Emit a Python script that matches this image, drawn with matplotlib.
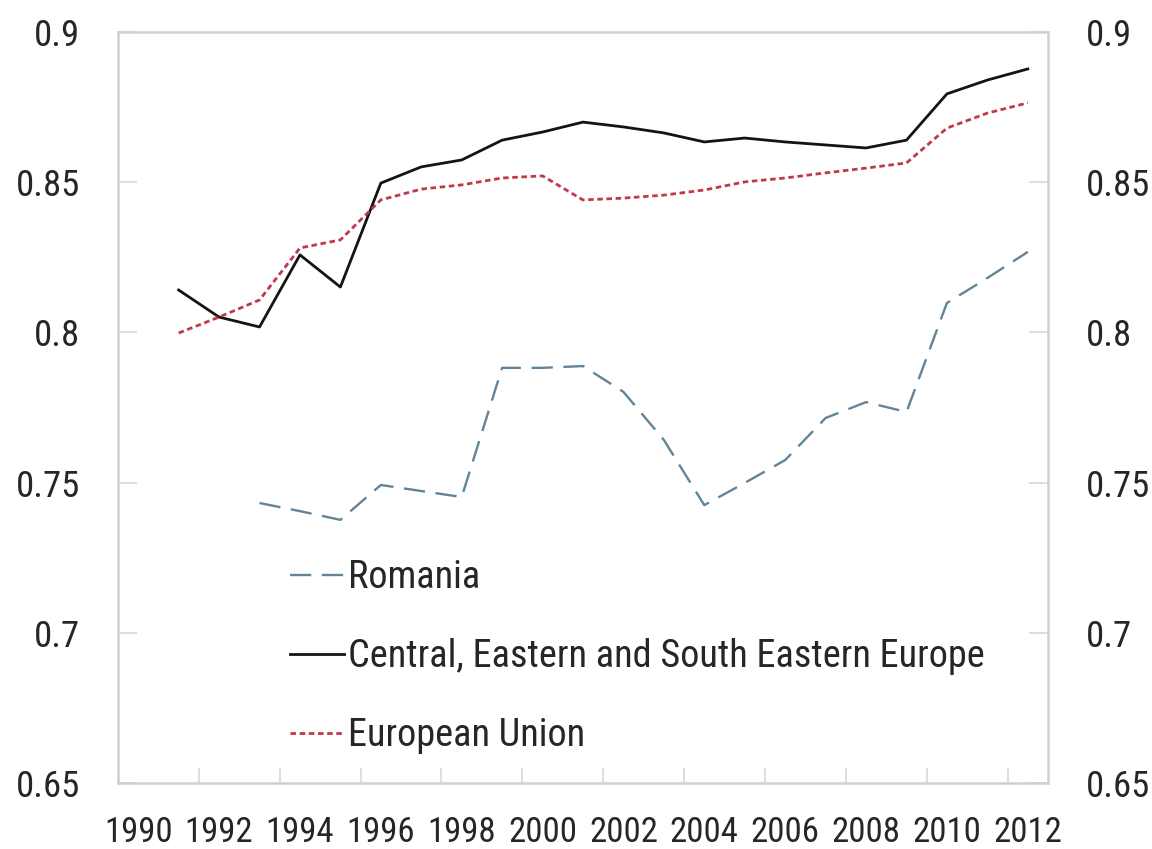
import matplotlib
matplotlib.use("Agg")
import matplotlib.pyplot as plt
from matplotlib import font_manager
from matplotlib.ticker import FixedLocator, FixedFormatter

years = list(range(1990, 2013))
tick_labels = [str(y) for y in range(1990, 2013, 2)]

romania_years = list(range(1993, 2013))
romania = [0.7432, 0.7405, 0.7376, 0.7492, 0.7472, 0.7452, 0.7882, 0.7882,
           0.7888, 0.7802, 0.7642, 0.7425, 0.7499, 0.7575, 0.7715, 0.7768,
           0.7735, 0.8098, 0.8181, 0.8268]

cesee_years = list(range(1991, 2013))
cesee = [0.8141, 0.8051, 0.8018, 0.8258, 0.8151, 0.8497, 0.8551, 0.8574,
         0.8640, 0.8667, 0.8700, 0.8684, 0.8664, 0.8634, 0.8647, 0.8634,
         0.8624, 0.8614, 0.8640, 0.8794, 0.8840, 0.8877]

eu_years = list(range(1991, 2013))
eu = [0.7998, 0.8051, 0.8108, 0.8281, 0.8308, 0.8441, 0.8477, 0.8491,
      0.8514, 0.8521, 0.8441, 0.8447, 0.8457, 0.8474, 0.8501, 0.8514,
      0.8531, 0.8547, 0.8564, 0.8680, 0.8730, 0.8764]

y_ticks = [0.65, 0.7, 0.75, 0.8, 0.85, 0.9]
y_tick_labels = ["0.65", "0.7", "0.75", "0.8", "0.85", "0.9"]

fonts = font_manager.fontManager.ttflist
names = {f.name for f in fonts}
font = None
for cand in ["Roboto Condensed", "Liberation Sans Narrow", "Open Sans Condensed",
             "DejaVu Sans Condensed", "Noto Sans Condensed"]:
    if cand in names:
        font = cand
        break
narrow = font is not None
if font is None:
    font = "Noto Sans CJK KR" if "Noto Sans CJK KR" in names else "DejaVu Sans"

plt.rcParams["font.family"] = [font, "DejaVu Sans"]

xtick_size = 25 if narrow else 20.5
ytick_size = 26.5 if narrow else 21
leg_size = 27.5 if narrow else 22

fig = plt.figure(figsize=(11.52, 8.49), dpi=100)
ax = fig.add_axes([118 / 1152, 1 - 783 / 849, 930 / 1152, 751 / 849])

def idx(ys):
    return [y - years[0] for y in ys]

ax.plot(idx(romania_years), romania, color="#62849a", lw=1.7, dashes=(9, 4.5),
        label="Romania")
ax.plot(idx(cesee_years), cesee, color="#141414", lw=2.0,
        label="Central, Eastern and South Eastern Europe")
ax.plot(idx(eu_years), eu, color="#c0394b", lw=2.0, dashes=(2, 1.3),
        label="European Union")

ax.set_xlim(-0.5, len(years) - 0.5)
ax.set_ylim(0.65, 0.9)

major_pos = [y - years[0] for y in range(1990, 2013, 2)]
ax.xaxis.set_major_locator(FixedLocator(major_pos))
ax.xaxis.set_major_formatter(FixedFormatter(tick_labels))
ax.xaxis.set_minor_locator(FixedLocator([k - 0.5 for k in range(2, 23, 2)]))
ax.tick_params(axis="x", which="major", length=0, pad=24, labelsize=xtick_size,
               labelcolor="#262626")
ax.tick_params(axis="x", which="minor", direction="in", length=11, width=1.2,
               color="#d8d8d8")

ax.set_yticks(y_ticks)
ax.set_yticklabels(y_tick_labels)
ax.tick_params(axis="y", direction="in", length=14, width=1.2, color="#d8d8d8",
               left=True, right=True, labelleft=True, labelright=True,
               pad=27, labelsize=ytick_size, labelcolor="#262626")

for sp in ax.spines.values():
    sp.set_color("#d0d0d0")
    sp.set_linewidth(1.8)

leg = ax.legend(loc="upper left", bbox_to_anchor=(0.185, 0.298), frameon=False,
                fontsize=leg_size, handlelength=1.42, handletextpad=0.1,
                labelspacing=1.1, borderpad=0, borderaxespad=0)
for t in leg.get_texts():
    t.set_color("#262626")

fig.savefig("out.png", dpi=100)
